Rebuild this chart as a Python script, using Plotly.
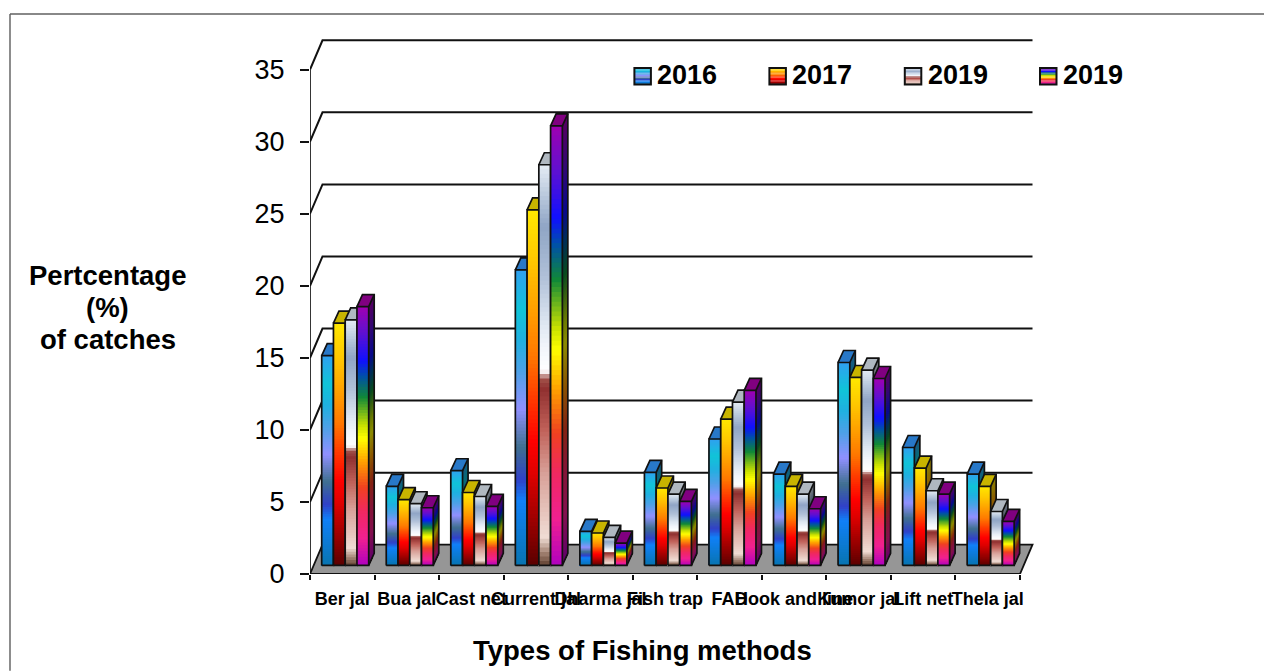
import plotly.graph_objects as go

# Catch share per fishing method
categories = ["Ber jal", "Bua jal", "Cast net", "Current jal", "Dharma jal", "Fish trap",
              "FAD", "Hook and line", "Kumor jal", "Lift net", "Thela jal"]
series_names = ["2016", "2017", "2019", "2019"]
values_2016 = [14.56, 5.48, 6.57, 20.5, 2.36, 6.45, 8.77, 6.34, 14.08, 8.18, 6.34]
values_2017 = [16.81, 4.56, 5.06, 24.67, 2.25, 5.37, 10.15, 5.48, 13.04, 6.75, 5.48]
values_2019a = [17.04, 4.28, 4.78, 27.8, 1.94, 4.95, 11.33, 4.95, 13.55, 5.18, 3.74]
values_2019b = [17.96, 4.0, 4.09, 30.5, 1.55, 4.44, 12.14, 3.93, 12.97, 4.95, 3.05]
all_values = [values_2016, values_2017, values_2019a, values_2019b]
y_ticks = [0, 5, 10, 15, 20, 25, 30, 35]

# Vertical colour ramps, bottom (0) to top (1), one per series
ramps = [
    [(0, "#0874b0"), (.22, "#1080f8"), (.29, "#3040c8"), (.40, "#407090"), (.53, "#9090ff"),
     (.65, "#50a0e8"), (.76, "#20b0e0"), (.865, "#10c4d8"), (1, "#30a0f0")],
    [(0, "#5a0000"), (.07, "#800000"), (.26, "#e00000"), (.35, "#ff0000"), (.45, "#ff3000"),
     (.59, "#ff7800"), (.72, "#ffa000"), (.86, "#ffc800"), (1, "#ffe800")],
    [(0, "#604030"), (.03, "#a08070"), (.07, "#f0dcd4"), (.23, "#d8a098"), (.34, "#c06058"),
     (.44, "#903030"), (.465, "#a05048"), (.485, "#ffffff"), (.55, "#f0f4fa"), (.6, "#dfe8f2"),
     (.72, "#b0c0d8"), (.845, "#8fa5c5"), (1, "#e4ecf4")],
    [(0, "#b000c0"), (.105, "#f02090"), (.21, "#f02860"), (.30, "#f04020"), (.40, "#ffa000"),
     (.49, "#ffff00"), (.54, "#c8e000"), (.65, "#108838"), (.73, "#0050a8"), (.79, "#1010ff"),
     (.9, "#6010d0"), (1, "#a000b0")],
]
top_colors = ["#2878c8", "#c8b400", "#b0b8c0", "#800080"]
SIDE_SHADE = 0.55
BANDS = 90

# Plot box in page pixels and the oblique projection in axis units
PLOT_L, PLOT_R, PLOT_T, PLOT_B = 310.0, 1034.0, 39.0, 574.3
UNIT_X, UNIT_Y = 710 / 11, 14.42
X_MAX = (PLOT_R - PLOT_L) / UNIT_X
Y_MAX = (PLOT_B - PLOT_T) / UNIT_Y
WALL_DX, WALL_DY = 12.5 / UNIT_X, 29.3 / UNIT_Y
BAR_X0, BAR_BASE = 11.7 / UNIT_X, 8.6 / UNIT_Y
BAR_W = 11.75 / UNIT_X
BAR_DX, BAR_DY = 5.5 / UNIT_X, 12 / UNIT_Y
LINE = "#111111"


def rgb(h):
    return tuple(int(h[i:i + 2], 16) for i in (1, 3, 5))


def ramp_color(ramp, f, shade=1.0):
    for (f0, c0), (f1, c1) in zip(ramp, ramp[1:]):
        if f <= f1:
            t = (f - f0) / (f1 - f0)
            a, b = rgb(c0), rgb(c1)
            return "rgb(%d,%d,%d)" % tuple(round((p + (q - p) * t) * shade) for p, q in zip(a, b))
    return ramp_color(ramp, 1.0, shade)


def polygons(polys):
    xs, ys = [], []
    for poly in polys:
        for x, y in poly:
            xs.append(x)
            ys.append(y)
        xs.append(None)
        ys.append(None)
    return xs, ys


def fill_trace(polys, color):
    xs, ys = polygons(polys)
    return go.Scatter(x=xs, y=ys, mode="lines", fill="toself", fillcolor=color,
                      line=dict(width=0), hoverinfo="skip", showlegend=False)


def line_trace(polys, width=1.7, color=LINE):
    xs, ys = polygons(polys)
    return go.Scatter(x=xs, y=ys, mode="lines", line=dict(color=color, width=width),
                      hoverinfo="skip", showlegend=False)


def px_x(px):
    return (px - PLOT_L) / (PLOT_R - PLOT_L)


def px_y(py):
    return (PLOT_B - py) / (PLOT_B - PLOT_T)


fig = go.Figure()

# Floor and back-wall grid
n = len(categories)
floor = [(0, 0), (WALL_DX, WALL_DY), (n + WALL_DX, WALL_DY), (n, 0), (0, 0)]
fig.add_trace(fill_trace([floor], "#969696"))
fig.add_trace(line_trace([floor], 1.8))
grid = [[(0, v), (WALL_DX, v + WALL_DY), (n + WALL_DX, v + WALL_DY)] for v in y_ticks[1:]]
fig.add_trace(line_trace(grid, 2.0))
fig.add_trace(line_trace([[(0, 0), (0, y_ticks[-1])]], 1.7))

# Bars, left to right so each one hides the side of its left neighbour
for s, values in enumerate(all_values):
    ramp = ramps[s]
    x_left = [i + BAR_X0 + s * BAR_W for i in range(n)]
    x_right = [x + BAR_W for x in x_left]
    for k in range(BANDS - 1, -1, -1):
        f_top, f_mid = (k + 1) / BANDS, (k + .5) / BANDS
        polys = [[(xr, BAR_BASE), (xr + BAR_DX, BAR_BASE + BAR_DY),
                  (xr + BAR_DX, BAR_BASE + BAR_DY + v * f_top), (xr, BAR_BASE + v * f_top)]
                 for xr, v in zip(x_right, values)]
        fig.add_trace(fill_trace(polys, ramp_color(ramp, f_mid, SIDE_SHADE)))
    tops = [[(xl, BAR_BASE + v), (xl + BAR_DX, BAR_BASE + v + BAR_DY),
             (xr + BAR_DX, BAR_BASE + v + BAR_DY), (xr, BAR_BASE + v)]
            for xl, xr, v in zip(x_left, x_right, values)]
    fig.add_trace(fill_trace(tops, top_colors[s]))
    for k in range(BANDS - 1, -1, -1):
        f_top, f_mid = (k + 1) / BANDS, (k + .5) / BANDS
        polys = [[(xl, BAR_BASE), (xr, BAR_BASE), (xr, BAR_BASE + v * f_top), (xl, BAR_BASE + v * f_top)]
                 for xl, xr, v in zip(x_left, x_right, values)]
        fig.add_trace(fill_trace(polys, ramp_color(ramp, f_mid)))
    outlines = []
    for xl, xr, v in zip(x_left, x_right, values):
        b, t = BAR_BASE, BAR_BASE + v
        outlines.append([(xl, b), (xr, b), (xr, t), (xl, t), (xl, b)])
        outlines.append([(xl, t), (xl + BAR_DX, t + BAR_DY), (xr + BAR_DX, t + BAR_DY),
                         (xr + BAR_DX, b + BAR_DY), (xr, b)])
        outlines.append([(xr, t), (xr + BAR_DX, t + BAR_DY)])
    fig.add_trace(line_trace(outlines))

# Legend swatches and labels
shapes = [
    dict(type="line", xref="paper", yref="paper", x0=px_x(10), x1=px_x(10), y0=px_y(14), y1=px_y(671),
         line=dict(color="#707070", width=1.6)),
    dict(type="line", xref="paper", yref="paper", x0=px_x(10), x1=px_x(1264), y0=px_y(14), y1=px_y(14),
         line=dict(color="#606060", width=1.6)),
]
annotations = []
swatch_left = [634.4, 769.4, 904.8, 1040.0]
label_left = [654.5, 790.0, 925.5, 1060.5]
SW, SY0, SY1 = 16.5, 68.0, 84.5
for s, name in enumerate(series_names):
    steps = 12
    for k in range(steps):
        shapes.append(dict(type="rect", xref="paper", yref="paper", layer="above",
                           x0=px_x(swatch_left[s]), x1=px_x(swatch_left[s] + SW),
                           y0=px_y(SY1 - (SY1 - SY0) * k / steps),
                           y1=px_y(SY1 - (SY1 - SY0) * (k + 1) / steps),
                           fillcolor=ramp_color(ramps[s], (k + .5) / steps), line=dict(width=0)))
    shapes.append(dict(type="rect", xref="paper", yref="paper", layer="above",
                       x0=px_x(swatch_left[s]), x1=px_x(swatch_left[s] + SW),
                       y0=px_y(SY1), y1=px_y(SY0), line=dict(color="#111111", width=2)))
    annotations.append(dict(text=name, xref="paper", yref="paper", x=px_x(label_left[s]), y=px_y(75.5),
                            xanchor="left", yanchor="middle", showarrow=False,
                            font=dict(family="Liberation Sans", size=27, color="black", weight="bold")))

# Axis titles
title_font = dict(family="Liberation Sans", size=27.5, color="black", weight="bold")
for line, py in zip(["Pertcentage", "(%)", "of catches"], [275.5, 308, 340]):
    annotations.append(dict(text=line, xref="paper", yref="paper", x=px_x(107.5), y=px_y(py),
                            xanchor="center", yanchor="middle", showarrow=False, font=title_font))
annotations.append(dict(text="Types of Fishing methods", xref="paper", yref="paper", x=px_x(642), y=px_y(651),
                        xanchor="center", yanchor="middle", showarrow=False, font=title_font))

fig.update_layout(
    width=1264, height=671, autosize=False,
    margin=dict(l=PLOT_L, r=1264 - PLOT_R, t=PLOT_T, b=671 - PLOT_B, pad=0),
    paper_bgcolor="white", plot_bgcolor="white", hovermode=False, showlegend=False,
    shapes=shapes, annotations=annotations,
    xaxis=dict(range=[0, X_MAX], showgrid=False, zeroline=False, showline=False,
               tickmode="array", tickvals=[i + .5 for i in range(n)], ticktext=categories,
               tickangle=0, ticks="outside", ticklen=0, ticklabelstandoff=8,
               tickfont=dict(family="Liberation Sans", size=18, color="black", weight="bold"),
               minor=dict(tickmode="array", tickvals=list(range(n + 1)), ticks="outside", ticklen=5,
                          tickwidth=1.5, tickcolor=LINE, showgrid=False)),
    yaxis=dict(range=[0, Y_MAX], showgrid=False, zeroline=False, showline=False,
               tickmode="array", tickvals=y_ticks, ticks="outside", ticklen=9, tickwidth=1.5,
               tickcolor=LINE, ticklabelstandoff=10,
               tickfont=dict(family="Liberation Sans", size=27, color="black")),
)

fig.write_html("out.html", config=dict(displayModeBar=False))
